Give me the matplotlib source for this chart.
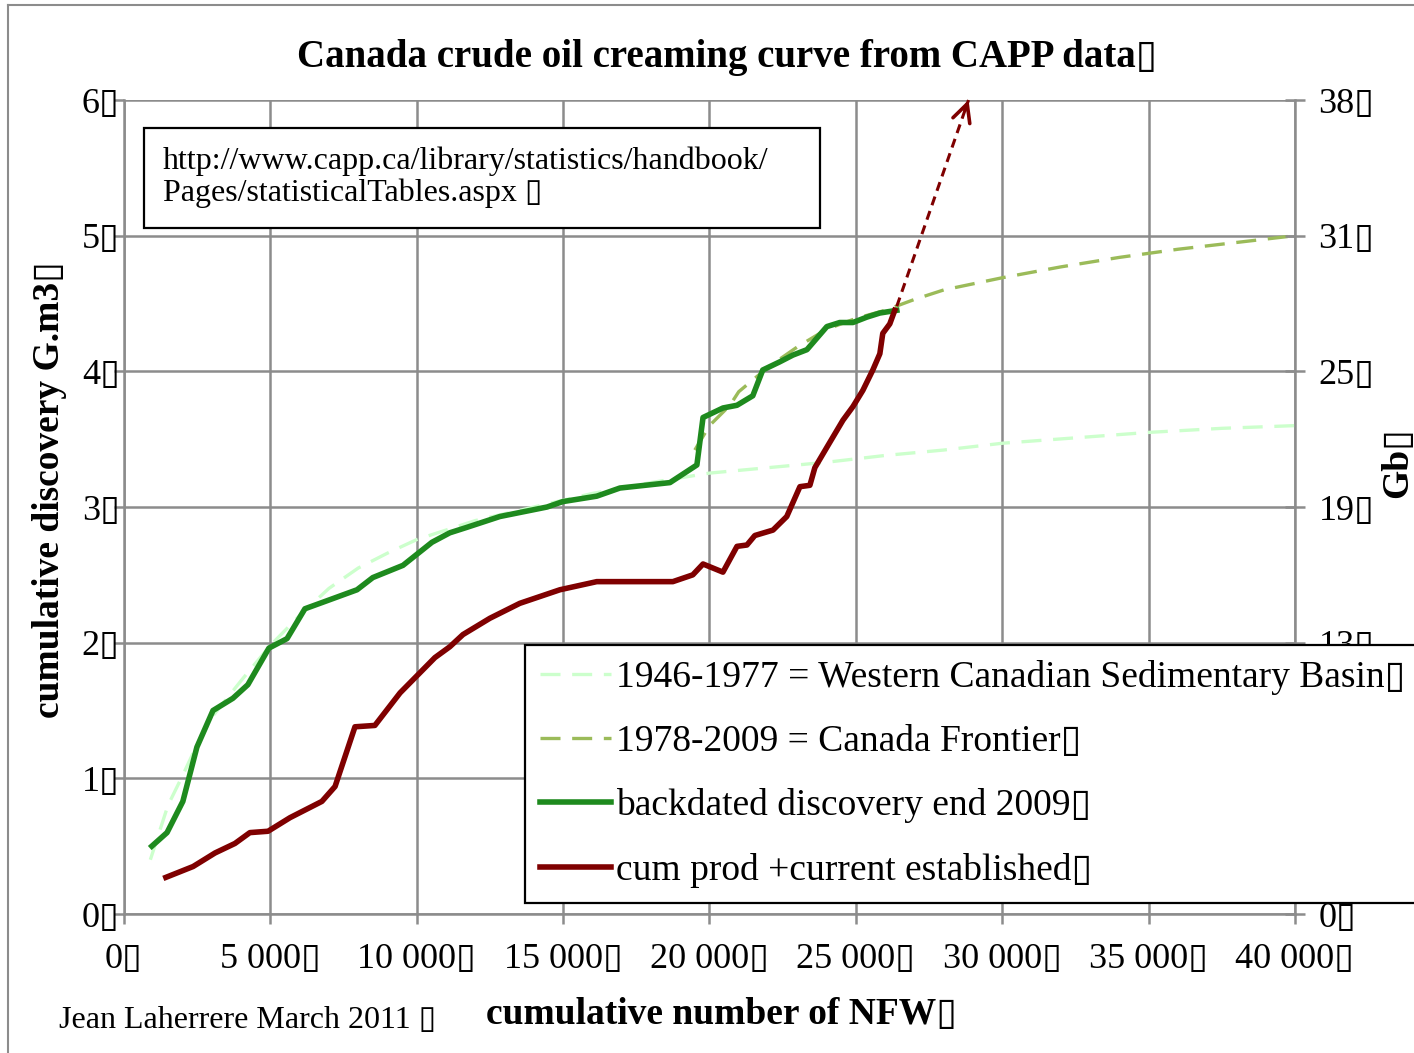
import numpy as np
import matplotlib
matplotlib.use("Agg")
import matplotlib.pyplot as plt
from matplotlib.patches import Rectangle
from matplotlib.lines import Line2D

plt.rcParams['font.family'] = ['Liberation Serif', 'DejaVu Sans']

BOX = "\u25af"  # the missing-glyph boxes seen in the original

# backdated discovery end 2009 (cumulative NFW, G.m3)
disc_x = [950, 1470, 2010, 2490, 3040, 3720, 4230, 4950, 5570, 6180, 6690, 7960, 8500, 9530,
          10520, 11130, 11710, 12840, 14450, 14990, 16150, 16940, 18650, 19570, 19780, 20460,
          20940, 21480, 21820, 22400, 22850, 23330, 24010, 24450, 24900, 25380, 25820, 26400]
disc_y = [0.50, 0.60, 0.83, 1.23, 1.50, 1.59, 1.69, 1.96, 2.03, 2.25, 2.29, 2.39, 2.48, 2.57,
          2.74, 2.81, 2.85, 2.93, 3.00, 3.04, 3.08, 3.14, 3.18, 3.31, 3.66, 3.73,
          3.75, 3.82, 4.01, 4.07, 4.12, 4.16, 4.33, 4.36, 4.36, 4.40, 4.43, 4.45]

# cum prod + current established
prod_x = [1430, 2360, 3110, 3790, 4300, 4920, 5670, 6760, 7210, 7890, 8570, 9430, 10620, 11130,
          11580, 12500, 13520, 14890, 16150, 18750, 19430, 19780, 20460, 20940, 21280, 21550,
          22170, 22640, 23090, 23430, 23600, 24010, 24560, 24900, 25240, 25580, 25820, 25920,
          26160, 26330]
prod_y = [0.27, 0.35, 0.45, 0.52, 0.60, 0.61, 0.71, 0.83, 0.94, 1.38, 1.39, 1.63, 1.89, 1.97,
          2.06, 2.18, 2.29, 2.39, 2.45, 2.45, 2.50, 2.58, 2.52, 2.71, 2.72, 2.79,
          2.83, 2.93, 3.15, 3.16, 3.29, 3.44, 3.64, 3.74, 3.86, 4.01, 4.13, 4.28,
          4.35, 4.45]

# 1946-1977 = Western Canadian Sedimentary Basin (fitted curve)
wcsb_x = [900, 1500, 2000, 2500, 3000, 4000, 5000, 6000, 7000, 8000, 9000, 10000, 12000, 14000,
          16000, 18000, 20000, 22000, 24000, 26000, 28000, 30000, 32500, 35000, 37500, 40000]
wcsb_y = [0.40, 0.80, 1.02, 1.25, 1.45, 1.72, 1.98, 2.20, 2.40, 2.55, 2.66, 2.76, 2.90, 3.00,
          3.10, 3.18, 3.25, 3.29, 3.33, 3.38, 3.42, 3.47, 3.51, 3.55, 3.58, 3.60]

# 1978-2009 = Canada Frontier (fitted curve)
front_x = [19500, 20000, 20700, 21000, 22000, 23000, 24000, 25000, 26000, 27000, 28000, 30000,
           32000, 34000, 36000, 38000, 40000]
front_y = [3.42, 3.60, 3.75, 3.85, 4.03, 4.18, 4.31, 4.39, 4.45, 4.53, 4.60, 4.69,
           4.77, 4.84, 4.90, 4.95, 5.00]

# extrapolation arrow of cum prod
arrow_x = [26400, 28850]
arrow_y = [4.48, 6.0]

x_ticks = [0, 5000, 10000, 15000, 20000, 25000, 30000, 35000, 40000]
y_ticks = [0, 1, 2, 3, 4, 5, 6]
gb_labels = [0, 6, 13, 19, 25, 31, 38]

grid_col = "#8c8c8c"
dark_red = "#7f0000"

fig = plt.figure(figsize=(14.14, 10.53), dpi=100)
ax = fig.add_axes([0.0877, 0.1320, 0.8281, 0.7730])

ax.plot(wcsb_x, wcsb_y, color="#ccffcc", lw=2.4, dashes=(6, 3.5), zorder=3,
        label="1946-1977 = Western Canadian Sedimentary Basin" + BOX)
ax.plot(front_x, front_y, color="#9bbb59", lw=2.4, dashes=(6, 3.5), zorder=3,
        label="1978-2009 = Canada Frontier" + BOX)
ax.plot(disc_x, disc_y, color="#1e8a1e", lw=4, zorder=4,
        label="backdated discovery end 2009" + BOX)
ax.plot(prod_x, prod_y, color=dark_red, lw=4, zorder=5,
        label="cum prod +current established" + BOX)

# dashed shaft, then a solid open head at the tip
ax.plot(arrow_x, arrow_y, color=dark_red, lw=2.2, dashes=(3, 2), zorder=6, clip_on=False)
head_from = (arrow_x[1] - 0.05 * (arrow_x[1] - arrow_x[0]),
             arrow_y[1] - 0.05 * (arrow_y[1] - arrow_y[0]))
ax.annotate("", xy=(arrow_x[1], arrow_y[1]), xytext=head_from,
            arrowprops=dict(arrowstyle="->", color=dark_red, lw=2.6, mutation_scale=32,
                            shrinkA=0, shrinkB=0),
            annotation_clip=False, zorder=6)

ax.set_xlim(0, 40000)
ax.set_ylim(0, 6)
ax.set_xticks(x_ticks)
ax.set_xticklabels([f"{v:,}".replace(",", " ") + BOX for v in x_ticks])
ax.set_yticks(y_ticks)
ax.set_yticklabels([f"{v}" + BOX for v in y_ticks])
ax.grid(True, color=grid_col, lw=1.8)
ax.set_axisbelow(True)
for s in ["top", "right"]:
    ax.spines[s].set_visible(False)
for s in ["left", "bottom"]:
    ax.spines[s].set_color(grid_col)
    ax.spines[s].set_linewidth(1.8)
ax.tick_params(axis="x", direction="out", length=7, width=1.8, color=grid_col,
               pad=14, labelsize=26)
ax.tick_params(axis="y", direction="out", length=7, width=1.8, color=grid_col,
               pad=-4, labelsize=26)

ax2 = ax.twinx()
ax2.set_ylim(0, 6)
ax2.set_yticks(y_ticks)
ax2.set_yticklabels([f"{v}" + BOX for v in gb_labels])
for s in ["top", "left", "bottom"]:
    ax2.spines[s].set_visible(False)
ax2.spines["right"].set_color(grid_col)
ax2.spines["right"].set_linewidth(1.8)
ax2.tick_params(axis="y", direction="inout", length=14, width=1.8, color=grid_col,
                pad=10, labelsize=26)

handles, labels = ax.get_legend_handles_labels()
leg = ax2.legend(handles, labels, loc="lower left", bbox_to_anchor=(0.3424, 0.0135),
                 borderaxespad=0, fontsize=27, frameon=True, fancybox=False,
                 edgecolor="black", framealpha=1, handlelength=1.9, handletextpad=0.13,
                 labelspacing=0.79, borderpad=0.4)
leg.get_frame().set_linewidth(1.6)

# source box
ax.add_patch(Rectangle((0.0171, 0.8428), 0.5773, 0.1228, transform=ax.transAxes,
                       facecolor="white", edgecolor="black", lw=1.6, zorder=7))
ax.text(0.0333, 0.905, "http://www.capp.ca/library/statistics/handbook/\nPages/statisticalTables.aspx " + BOX,
        transform=ax.transAxes, fontsize=23, va="center", ha="left", linespacing=1.1, zorder=8)

fig.text(0.514, 0.945, "Canada crude oil creaming curve from CAPP data" + BOX,
         fontsize=28, fontweight="bold", ha="center", va="center")
fig.text(0.035, 0.535, "cumulative discovery G.m3" + BOX, fontsize=27, fontweight="bold",
         rotation=90, ha="center", va="center")
fig.text(0.51, 0.037, "cumulative number of NFW" + BOX, fontsize=27, fontweight="bold",
         ha="center", va="center")
fig.text(0.042, 0.031, "Jean Laherrere March 2011 " + BOX, fontsize=23, ha="left", va="center")
fig.text(0.9887, 0.561, "Gb" + BOX, fontsize=27, fontweight="bold", rotation=90,
         ha="center", va="center")

# chart area border (left and top edges visible)
fig.add_artist(Line2D([0.0057, 0.0057], [0, 0.9952], color="#8c8c8c", lw=1.5))
fig.add_artist(Line2D([0.0057, 1], [0.9952, 0.9952], color="#8c8c8c", lw=1.5))

fig.savefig("out.png", dpi=100)
